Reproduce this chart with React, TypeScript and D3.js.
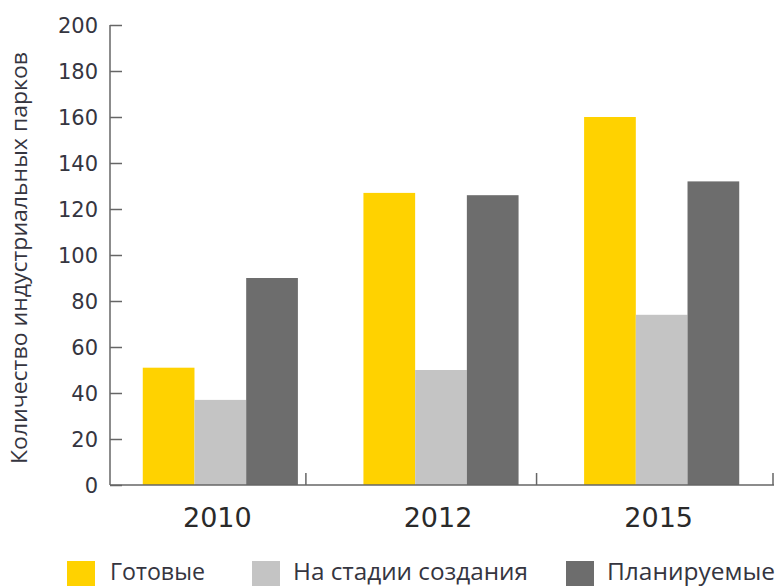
import React, { useEffect, useRef } from 'react';
import * as d3 from 'd3';

const years = ['2010', '2012', '2015'];
const seriesNames = ['Готовые', 'На стадии создания', 'Планируемые'];
const ready = [51, 127, 160];
const inProgress = [37, 50, 74];
const planned = [90, 126, 132];
const yTicks = [0, 20, 40, 60, 80, 100, 120, 140, 160, 180, 200];

const colors = ['#FFD200', '#C4C4C4', '#6D6D6D'];
const legendWidths = [95, 235, 168]; // text widths

const App: React.FC = () => {
  const ref = useRef<SVGSVGElement | null>(null);
  const width = 776;
  const height = 586;
  const margin = { top: 25, right: 2, bottom: 101, left: 110 };

  useEffect(() => {
    if (!ref.current) return;
    const svg = d3.select(ref.current);
    svg.selectAll('*').remove();

    const rows = years.map((year, i) => ({
      year,
      values: [ready[i], inProgress[i], planned[i]],
    }));

    const x = d3.scaleBand<string>()
      .domain(years)
      .range([margin.left, width - margin.right - 2])
      .paddingInner(0.297)
      .paddingOuter(0.1485);

    const xInner = d3.scaleBand<number>()
      .domain([0, 1, 2])
      .range([0, x.bandwidth()]);

    const y = d3.scaleLinear()
      .domain([0, 200])
      .range([height - margin.bottom, margin.top]);

    const axisColor = '#666';
    const textColor = '#35353f';

    // bars
    const groups = svg.append('g')
      .selectAll('g')
      .data(rows)
      .join('g')
      .attr('transform', d => `translate(${x(d.year)},0)`);

    groups.selectAll('rect')
      .data(d => d.values.map((v, k) => ({ v, k })))
      .join('rect')
      .attr('x', d => xInner(d.k) ?? 0)
      .attr('width', xInner.bandwidth())
      .attr('y', d => y(d.v))
      .attr('height', d => y(0) - y(d.v))
      .attr('fill', d => colors[d.k]);

    // y axis (ticks point inward)
    const yAxis = svg.append('g')
      .attr('transform', `translate(${margin.left},0)`)
      .call(d3.axisRight(y).tickValues(yTicks).tickSize(12).tickFormat(() => ''));
    yAxis.select('.domain').attr('stroke', axisColor).attr('stroke-width', 1.5)
      .attr('d', `M0,${y(200)}V${y(0)}`);
    yAxis.selectAll('.tick line').attr('stroke', axisColor).attr('stroke-width', 1.5);

    svg.append('g')
      .selectAll('text')
      .data(yTicks)
      .join('text')
      .attr('x', margin.left - 12)
      .attr('y', d => y(d))
      .attr('dy', '0.36em')
      .attr('text-anchor', 'end')
      .attr('font-family', '"DejaVu Sans", Verdana, sans-serif')
      .attr('font-size', 21)
      .attr('fill', textColor)
      .text(d => d);

    // x axis line + category separator ticks
    const x0 = margin.left;
    const x1 = width - 2;
    svg.append('line')
      .attr('x1', x0).attr('x2', x1)
      .attr('y1', y(0)).attr('y2', y(0))
      .attr('stroke', axisColor).attr('stroke-width', 1.5);

    const sepX = years.map((yr, i) =>
      i === years.length - 1 ? x1 - 1 : (x(yr) ?? 0) + x.bandwidth() + 8 + i * 10
    );
    svg.append('g')
      .selectAll('line')
      .data(sepX)
      .join('line')
      .attr('x1', d => d).attr('x2', d => d)
      .attr('y1', y(0)).attr('y2', y(0) - 12)
      .attr('stroke', axisColor).attr('stroke-width', 1.5);

    svg.append('g')
      .selectAll('text')
      .data(years)
      .join('text')
      .attr('x', d => (x(d) ?? 0) + x.bandwidth() / 2 - 3)
      .attr('y', 527)
      .attr('text-anchor', 'middle')
      .attr('font-family', '"DejaVu Sans", Verdana, sans-serif')
      .attr('font-size', 27)
      .attr('fill', '#2a2a2a')
      .text(d => d);

    // y axis title
    svg.append('text')
      .attr('transform', `translate(27,${258}) rotate(-90)`)
      .attr('text-anchor', 'middle')
      .attr('font-family', '"Open Sans", "Noto Sans", sans-serif')
      .attr('font-size', 21)
      .attr('fill', textColor)
      .attr('textLength', 412)
      .attr('lengthAdjust', 'spacingAndGlyphs')
      .text('Количество индустриальных парков');

    // legend
    const legendX = [67, 252, 566];
    const legend = svg.append('g')
      .selectAll('g')
      .data(seriesNames)
      .join('g')
      .attr('transform', (_, i) => `translate(${legendX[i]},561)`);

    legend.append('rect')
      .attr('width', 28)
      .attr('height', 25)
      .attr('fill', (_, i) => colors[i]);

    legend.append('text')
      .attr('x', (_, i) => (i === 0 ? 43 : 41))
      .attr('y', 19)
      .attr('font-family', '"Open Sans", "Noto Sans", sans-serif')
      .attr('font-size', 24)
      .attr('fill', textColor)
      .attr('textLength', (_, i) => legendWidths[i])
      .attr('lengthAdjust', 'spacingAndGlyphs')
      .text(d => d);
  }, []);

  return (
    <svg
      ref={ref}
      width={width}
      height={height}
      style={{ position: 'absolute', left: 0, top: 0, background: '#fff' }}
    />
  );
};

export default App;
